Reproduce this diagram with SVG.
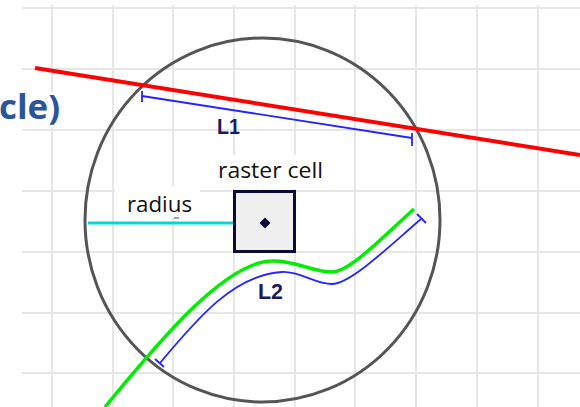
<svg xmlns="http://www.w3.org/2000/svg" width="580" height="407" viewBox="0 0 580 407">
  <style>
    .grid line { stroke: #e6e6e6; stroke-width: 2; }
    .lbl { font-family: "Open Sans", "Liberation Sans", sans-serif; fill: #111111; }
    .Ltxt { font-family: "Liberation Sans", Arial, sans-serif; font-weight: bold; fill: #1b1b5c; font-size: 22px; }
    .meas { fill: none; stroke: #2424ff; stroke-width: 1.8; }
    .bg { fill: #ffffff; }
  </style>
  <rect width="580" height="407" fill="#ffffff"/>
  <g id="grid" class="grid">
    <line x1="52" y1="5" x2="52" y2="407"/>
    <line x1="113" y1="5" x2="113" y2="407"/>
    <line x1="173" y1="5" x2="173" y2="407"/>
    <line x1="234" y1="5" x2="234" y2="407"/>
    <line x1="295" y1="5" x2="295" y2="407"/>
    <line x1="355" y1="5" x2="355" y2="407"/>
    <line x1="416" y1="5" x2="416" y2="407"/>
    <line x1="477" y1="5" x2="477" y2="407"/>
    <line x1="538" y1="5" x2="538" y2="407"/>
    <line x1="22" y1="8" x2="580" y2="8"/>
    <line x1="22" y1="69" x2="580" y2="69"/>
    <line x1="22" y1="130" x2="580" y2="130"/>
    <line x1="22" y1="191" x2="580" y2="191"/>
    <line x1="22" y1="252" x2="580" y2="252"/>
    <line x1="22" y1="313" x2="580" y2="313"/>
    <line x1="22" y1="373" x2="580" y2="373"/>
  </g>
  <g id="title">
    <rect class="bg" x="0" y="92" width="66" height="36"/>
    <text x="-1" y="119" font-family="'Open Sans', 'Liberation Sans', sans-serif" font-weight="bold" font-size="34" fill="#2a5599" textLength="61" lengthAdjust="spacingAndGlyphs">cle)</text>
  </g>
  <g id="search-circle">
    <ellipse cx="262.5" cy="220" rx="177.5" ry="182" fill="none" stroke="#555555" stroke-width="3"/>
  </g>
  <g id="road-line">
    <line x1="35" y1="68" x2="580" y2="155" stroke="#ff0000" stroke-width="4"/>
  </g>
  <g id="road-curve">
    <path d="M105,407 C160,340 225,262 272,261 C295,260 312,272 332,272 C350,272 385,235 414,209" fill="none" stroke="#00ee00" stroke-width="3.5"/>
  </g>
  <g id="connectors">
    <g id="L1-measure">
      <line class="meas" x1="142" y1="96" x2="412" y2="138"/>
      <line class="meas" x1="142" y1="91" x2="142" y2="102"/>
      <line class="meas" x1="412" y1="133" x2="412" y2="146"/>
    </g>
    <g id="L2-measure">
      <path class="meas" d="M160,363 C200,315 235,275 282,272 C300,271 315,284 332,284 C350,284 385,250 421,219"/>
      <line class="meas" x1="155" y1="359" x2="164" y2="367"/>
      <line class="meas" x1="417" y1="214" x2="426" y2="223"/>
    </g>
    <g id="radius-line">
      <line x1="88" y1="223" x2="262" y2="223" stroke="#00d8dc" stroke-width="3"/>
    </g>
  </g>
  <g id="raster-cell">
    <rect class="bg" x="212" y="155" width="118" height="34"/>
    <text class="lbl" x="218" y="178" font-size="21" textLength="105" lengthAdjust="spacingAndGlyphs">raster cell</text>
    <rect x="234.5" y="191.5" width="60" height="60" fill="#efefef" stroke="#0a0a38" stroke-width="3"/>
    <path d="M265,217.5 L270.5,223 L265,228.5 L259.5,223 Z" fill="#0a0a38"/>
  </g>
  <g id="radius-label">
    <rect class="bg" x="115" y="186" width="85" height="32"/>
    <text class="lbl" x="127" y="212" font-size="21" textLength="65" lengthAdjust="spacingAndGlyphs">radius</text>
    <line x1="174" y1="218" x2="179" y2="218" stroke="#444444" stroke-width="1"/>
  </g>
  <g id="L1-label">
    <text class="Ltxt" x="217" y="134" textLength="23" lengthAdjust="spacingAndGlyphs">L1</text>
  </g>
  <g id="L2-label">
    <text class="Ltxt" x="258" y="299" textLength="25" lengthAdjust="spacingAndGlyphs">L2</text>
  </g>
</svg>
